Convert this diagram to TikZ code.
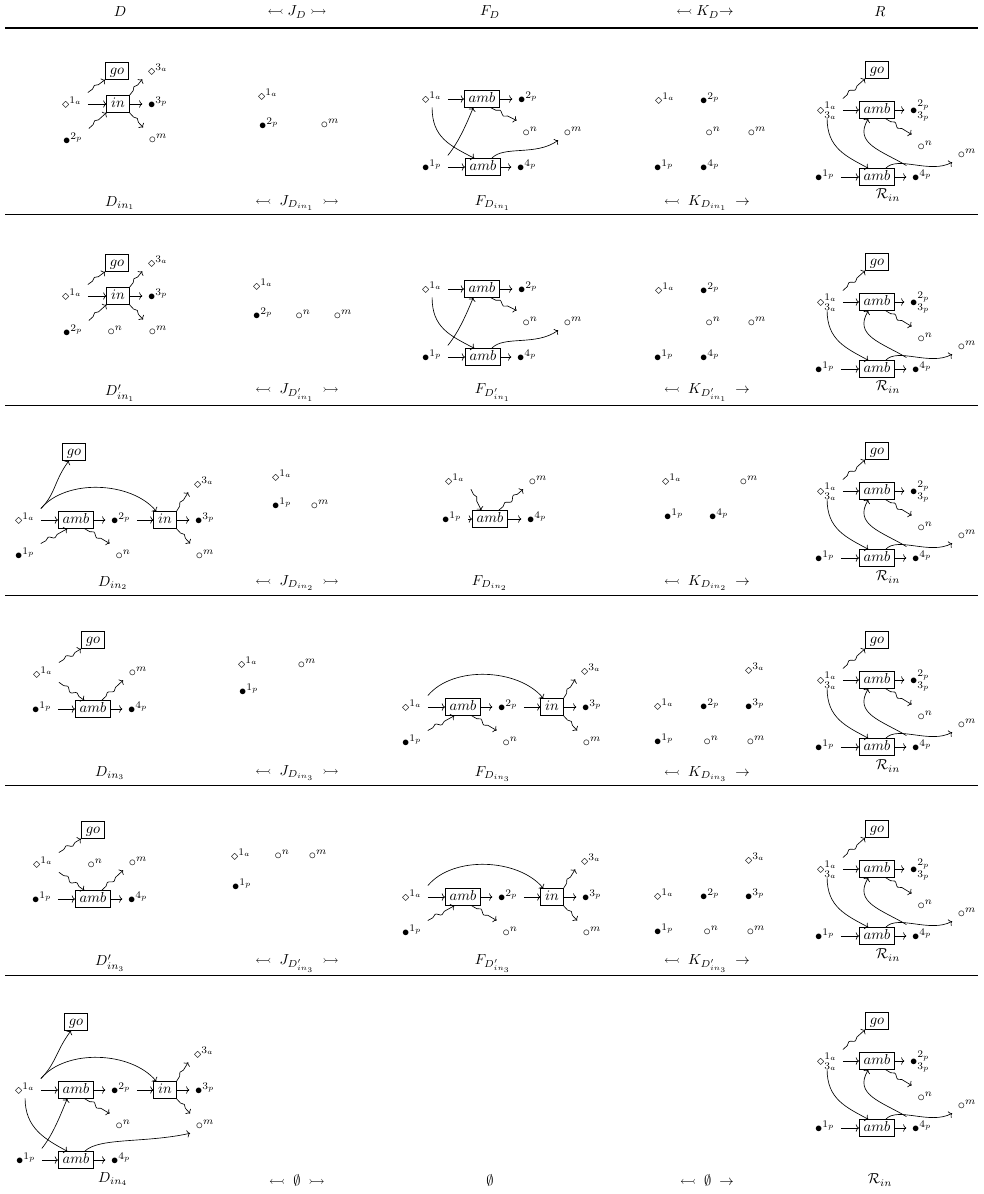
\documentclass[tikz,border=0pt]{standalone}
\usepackage{amsmath,amssymb}
\usetikzlibrary{arrows.meta,decorations.pathmorphing}
\tikzset{
  vtx/.style={inner sep=1pt,outer xsep=3pt,outer ysep=1.5pt,
    text height=2ex,text depth=0pt,xshift=3.5pt,yshift=1.8pt},
  agentbox/.style={draw,line width=0.5pt,inner xsep=3pt,inner ysep=2pt,
    text height=1.5ex,text depth=.25ex},
  edgearrow/.style={-{To[length=2.2pt,width=5pt]},line width=0.45pt},
  squig/.style={edgearrow,decorate,decoration={snake,amplitude=1.3pt,
    segment length=8pt,pre length=4pt,post length=4pt}},
  cellname/.style={inner sep=1pt},
  tablerule/.style={line width=0.6pt}
}
% D_{in_1}: go and in around 1a
\newcommand{\dinonecell}[2]{%
  \begin{scope}[shift={(0,#2)}]
    \node[agentbox] (#1-go) at (117,71) {$go$};
    \node[agentbox] (#1-in) at (118,104) {$in$};
    \node[vtx] (#1-1a) at (67,105) {$\diamond^{1_a}$};
    \node[vtx] (#1-2p) at (68,141) {$\bullet^{2_p}$};
    \node[vtx] (#1-3a) at (153,72) {$\diamond^{3_a}$};
    \node[vtx] (#1-3p) at (153,105) {$\bullet^{3_p}$};
    \node[vtx] (#1-m) at (153,140) {$\circ^m$};
    \draw[squig] (#1-1a.north east) -- (#1-go.south west);
    \draw[edgearrow] (#1-1a.east |- #1-in) -- (#1-in);
    \draw[squig] (#1-2p.north east) -- (#1-in.south west);
    \draw[squig] (#1-in.north east) -- (#1-3a.south west);
    \draw[edgearrow] (#1-in) -- (#1-in -| #1-3p.west);
    \draw[squig] (#1-in.south east) -- (#1-m.north west);
  \end{scope}}
% amb followed by in (D_{in_2}, D_{in_4}, F_{D_{in_3}})
\newcommand{\incell}[2]{%
  \begin{scope}[shift={#2}]
    \node[vtx] (#1-1a) at (20,521) {$\diamond^{1_a}$};
    \node[agentbox] (#1-amb) at (76,520) {$amb$};
    \node[vtx] (#1-2p) at (116,521) {$\bullet^{2_p}$};
    \node[agentbox] (#1-in) at (165,520) {$in$};
    \node[vtx] (#1-3a) at (199,485) {$\diamond^{3_a}$};
    \node[vtx] (#1-3p) at (200,521) {$\bullet^{3_p}$};
    \node[vtx] (#1-n) at (118,556) {$\circ^n$};
    \node[vtx] (#1-m) at (200,556) {$\circ^m$};
    \draw[edgearrow] (#1-1a.north east) .. controls +(25,-30) and +(-25,-30) .. (#1-in.135);
    \draw[edgearrow] (#1-1a.east |- #1-amb) -- (#1-amb);
    \draw[edgearrow] (#1-amb) -- (#1-amb -| #1-2p.west);
    \draw[squig] (#1-amb.-45) -- (#1-n.north west);
    \draw[edgearrow] (#1-2p.east |- #1-in) -- (#1-in);
    \draw[squig] (#1-in.north east) -- (#1-3a.south west);
    \draw[edgearrow] (#1-in) -- (#1-in -| #1-3p.west);
    \draw[squig] (#1-in.south east) -- (#1-m.north west);
  \end{scope}}
% F_{D_{in_1}}: two amb
\newcommand{\finonecell}[2]{%
  \begin{scope}[shift={(0,#2)}]
    \node[vtx] (#1-1a) at (427,100) {$\diamond^{1_a}$};
    \node[agentbox] (#1-amb) at (482,99) {$amb$};
    \node[vtx] (#1-2p) at (523,100) {$\bullet^{2_p}$};
    \node[vtx] (#1-n) at (525,133) {$\circ^n$};
    \node[vtx] (#1-m) at (568,133) {$\circ^m$};
    \node[vtx] (#1-1p) at (427,168) {$\bullet^{1_p}$};
    \node[agentbox] (#1-ambb) at (483,167) {$amb$};
    \node[vtx] (#1-4p) at (522,168) {$\bullet^{4_p}$};
    \draw[edgearrow] (#1-1a.east |- #1-amb) -- (#1-amb);
    \draw[edgearrow] (#1-amb) -- (#1-amb -| #1-2p.west);
    \draw[squig] (#1-amb.-45) -- (#1-n.north west);
    \draw[edgearrow] (#1-1a.south) .. controls +(0,30) and +(-25,-13) .. (#1-ambb.135);
    \draw[edgearrow] (#1-1p.north east) .. controls +(12,-15) and +(-6,14) .. (#1-amb.-135);
    \draw[edgearrow] (#1-1p.east |- #1-ambb) -- (#1-ambb);
    \draw[edgearrow] (#1-ambb) -- (#1-ambb -| #1-4p.west);
    \draw[edgearrow] (#1-ambb.45) .. controls +(12,-13) and +(-22,16) .. (#1-m.south west);
  \end{scope}}
% K_{D_{in_1}}
\newcommand{\kinonecell}[2]{%
  \begin{scope}[shift={(0,#2)}]
    \node[vtx] (#1-1a) at (660,101) {$\diamond^{1_a}$};
    \node[vtx] (#1-2p) at (705,101) {$\bullet^{2_p}$};
    \node[vtx] (#1-n) at (708,133) {$\circ^n$};
    \node[vtx] (#1-m) at (752,133) {$\circ^m$};
    \node[vtx] (#1-1p) at (659,168) {$\bullet^{1_p}$};
    \node[vtx] (#1-4p) at (705,168) {$\bullet^{4_p}$};
  \end{scope}}
% D_{in_3}: go and amb
\newcommand{\dinthreecell}[2]{%
  \begin{scope}[shift={(0,#2)}]
    \node[agentbox] (#1-go) at (93,640) {$go$};
    \node[vtx] (#1-1a) at (38,675) {$\diamond^{1_a}$};
    \node[vtx] (#1-m) at (133,673) {$\circ^m$};
    \node[vtx] (#1-1p) at (37,710) {$\bullet^{1_p}$};
    \node[agentbox] (#1-amb) at (93,709) {$amb$};
    \node[vtx] (#1-4p) at (133,710) {$\bullet^{4_p}$};
    \draw[squig] (#1-1a.north east) -- (#1-go.south west);
    \draw[squig] (#1-1a.south east) -- (#1-amb.135);
    \draw[squig] (#1-amb.45) -- (#1-m.south west);
    \draw[edgearrow] (#1-1p.east |- #1-amb) -- (#1-amb);
    \draw[edgearrow] (#1-amb) -- (#1-amb -| #1-4p.west);
  \end{scope}}
% K_{D_{in_3}}
\newcommand{\kinthreecell}[2]{%
  \begin{scope}[shift={(0,#2)}]
    \node[vtx] (#1-3a) at (750,671) {$\diamond^{3_a}$};
    \node[vtx] (#1-1a) at (659,707) {$\diamond^{1_a}$};
    \node[vtx] (#1-2p) at (705,707) {$\bullet^{2_p}$};
    \node[vtx] (#1-3p) at (750,707) {$\bullet^{3_p}$};
    \node[vtx] (#1-1p) at (659,742) {$\bullet^{1_p}$};
    \node[vtx] (#1-n) at (706,742) {$\circ^n$};
    \node[vtx] (#1-m) at (751,742) {$\circ^m$};
  \end{scope}}
% right-hand side R
\newcommand{\rhscell}[2]{%
  \begin{scope}[shift={(0,#2)}]
    \node[agentbox] (#1-go) at (877,70) {$go$};
    \node[agentbox] (#1-amb) at (877,110) {$amb$};
    \node[agentbox] (#1-ambb) at (877,177) {$amb$};
    \node[vtx] (#1-1a) at (822,111) {$\diamond^{1_a}_{3_a}$};
    \node[vtx] (#1-2p) at (915,111) {$\bullet^{2_p}_{3_p}$};
    \node[vtx] (#1-n) at (920,147) {$\circ^n$};
    \node[vtx] (#1-m) at (962,155) {$\circ^m$};
    \node[vtx] (#1-1p) at (820,178) {$\bullet^{1_p}$};
    \node[vtx] (#1-4p) at (917,178) {$\bullet^{4_p}$};
    \draw[squig] (#1-1a.north east) -- (#1-go.south west);
    \draw[edgearrow] (#1-1a.east |- #1-amb) -- (#1-amb);
    \draw[edgearrow] (#1-amb) -- (#1-amb -| #1-2p.west);
    \draw[squig] (#1-amb.-45) -- (#1-n.north west);
    \draw[edgearrow] (#1-1a.south) .. controls +(0,30) and +(-22,-12) .. (#1-ambb.135);
    \draw[edgearrow] (#1-4p.north west) .. controls +(-25,-15) and +(-15,25) .. (#1-amb.-135);
    \draw[edgearrow] (#1-ambb.45) .. controls +(12,-13) and +(-22,12) .. (#1-m.south west);
    \draw[edgearrow] (#1-1p.east |- #1-ambb) -- (#1-ambb);
    \draw[edgearrow] (#1-ambb) -- (#1-ambb -| #1-4p.west);
  \end{scope}}
\begin{document}
\begin{tikzpicture}[x=0.6897pt,y=-0.6897pt]
  \useasboundingbox (0,0) rectangle (983,1194);
  % header
  \node[cellname] (hD) at (120,12) {$D$};
  \node[cellname] (hJ) at (297,12) {$\leftarrowtail J_D \rightarrowtail$};
  \node[cellname] (hF) at (490,12) {$F_D$};
  \node[cellname] (hK) at (705,12) {$\leftarrowtail K_D{\rightarrow}$};
  \node[cellname] (hR) at (880,12) {$R$};
  \draw[tablerule,line width=0.8pt] (5,28) -- (978,28);
  \foreach \y in {214,405,595,785,975}
    \draw[tablerule] (5,\y) -- (978,\y);

  % row 1
  \dinonecell{d1}{0}
  \node[vtx] (j1-1a) at (263,97) {$\diamond^{1_a}$};
  \node[vtx] (j1-2p) at (264,126) {$\bullet^{2_p}$};
  \node[vtx] (j1-m) at (325,125) {$\circ^m$};
  \finonecell{f1}{0}
  \kinonecell{k1}{0}
  \rhscell{r1}{0}
  \node[cellname] (l1D) at (120,203) {$D_{in_1}$};
  \node[cellname] (l1J) at (297,203) {$\leftarrowtail\; J_{D_{in_1}}\;\rightarrowtail$};
  \node[cellname] (l1F) at (493,203) {$F_{D_{in_1}}$};
  \node[cellname] (l1K) at (707,203) {$\leftarrowtail\; K_{D_{in_1}}\;\rightarrow$};
  \node[cellname] (l1R) at (888,195) {$\mathcal{R}_{in}$};

  % row 2
  \dinonecell{d2}{192}
  \node[vtx] (d2-n) at (110,332) {$\circ^n$};
  \node[vtx] (j2-1a) at (258,287) {$\diamond^{1_a}$};
  \node[vtx] (j2-2p) at (258,316) {$\bullet^{2_p}$};
  \node[vtx] (j2-n) at (298,316) {$\circ^n$};
  \node[vtx] (j2-m) at (338,316) {$\circ^m$};
  \finonecell{f2}{190}
  \kinonecell{k2}{190}
  \rhscell{r2}{192}
  \node[cellname] (l2D) at (120,393) {$D'_{in_1}$};
  \node[cellname] (l2J) at (297,393) {$\leftarrowtail\; J_{D'_{in_1}}\;\rightarrowtail$};
  \node[cellname] (l2F) at (493,393) {$F_{D'_{in_1}}$};
  \node[cellname] (l2K) at (707,393) {$\leftarrowtail\; K_{D'_{in_1}}\;\rightarrow$};
  \node[cellname] (l2R) at (888,387) {$\mathcal{R}_{in}$};

  % row 3
  \incell{d3}{(0,0)}
  \node[agentbox] (d3-go) at (74,452) {$go$};
  \node[vtx] (d3-1p) at (20,556) {$\bullet^{1_p}$};
  \draw[edgearrow] (d3-1a.north east) .. controls +(15,-15) and +(-15,20) .. (d3-go.-120);
  \draw[squig] (d3-1p.north east) -- (d3-amb.-135);
  \node[vtx] (j3-1a) at (277,478) {$\diamond^{1_a}$};
  \node[vtx] (j3-1p) at (277,506) {$\bullet^{1_p}$};
  \node[vtx] (j3-m) at (315,506) {$\circ^m$};
  \node[vtx] (f3-1a) at (450,482) {$\diamond^{1_a}$};
  \node[vtx] (f3-m) at (533,482) {$\circ^m$};
  \node[vtx] (f3-1p) at (447,520) {$\bullet^{1_p}$};
  \node[agentbox] (f3-amb) at (490,519) {$amb$};
  \node[vtx] (f3-4p) at (532,520) {$\bullet^{4_p}$};
  \draw[squig] (f3-1a.south east) -- (f3-amb.135);
  \draw[squig] (f3-amb.45) -- (f3-m.south west);
  \draw[edgearrow] (f3-1p.east |- f3-amb) -- (f3-amb);
  \draw[edgearrow] (f3-amb) -- (f3-amb -| f3-4p.west);
  \node[vtx] (k3-1a) at (667,482) {$\diamond^{1_a}$};
  \node[vtx] (k3-m) at (744,482) {$\circ^m$};
  \node[vtx] (k3-1p) at (669,517) {$\bullet^{1_p}$};
  \node[vtx] (k3-4p) at (714,517) {$\bullet^{4_p}$};
  \rhscell{r3}{381}
  \node[cellname] (l3D) at (113,583) {$D_{in_2}$};
  \node[cellname] (l3J) at (297,583) {$\leftarrowtail\; J_{D_{in_2}}\;\rightarrowtail$};
  \node[cellname] (l3F) at (490,583) {$F_{D_{in_2}}$};
  \node[cellname] (l3K) at (707,583) {$\leftarrowtail\; K_{D_{in_2}}\;\rightarrow$};
  \node[cellname] (l3R) at (888,577) {$\mathcal{R}_{in}$};

  % row 4
  \dinthreecell{d4}{0}
  \node[vtx] (j4-1a) at (243,665) {$\diamond^{1_a}$};
  \node[vtx] (j4-m) at (302,665) {$\circ^m$};
  \node[vtx] (j4-1p) at (244,692) {$\bullet^{1_p}$};
  \incell{f4}{(387,187)}
  \node[vtx] (f4-1p) at (407,743) {$\bullet^{1_p}$};
  \draw[squig] (f4-1p.north east) -- (f4-amb.-135);
  \kinthreecell{k4}{0}
  \rhscell{r4}{570}
  \node[cellname] (l4D) at (110,773) {$D_{in_3}$};
  \node[cellname] (l4J) at (297,773) {$\leftarrowtail\; J_{D_{in_3}}\;\rightarrowtail$};
  \node[cellname] (l4F) at (493,774) {$F_{D_{in_3}}$};
  \node[cellname] (l4K) at (707,774) {$\leftarrowtail\; K_{D_{in_3}}\;\rightarrow$};
  \node[cellname] (l4R) at (888,766) {$\mathcal{R}_{in}$};

  % row 5
  \dinthreecell{d5}{190}
  \node[vtx] (d5-n) at (90,865) {$\circ^n$};
  \node[vtx] (j5-1a) at (236,857) {$\diamond^{1_a}$};
  \node[vtx] (j5-n) at (277,856) {$\circ^n$};
  \node[vtx] (j5-m) at (313,856) {$\circ^m$};
  \node[vtx] (j5-1p) at (237,887) {$\bullet^{1_p}$};
  \incell{f5}{(387,377)}
  \node[vtx] (f5-1p) at (407,933) {$\bullet^{1_p}$};
  \draw[squig] (f5-1p.north east) -- (f5-amb.-135);
  \kinthreecell{k5}{190}
  \rhscell{r5}{759}
  \node[cellname] (l5D) at (110,963) {$D'_{in_3}$};
  \node[cellname] (l5J) at (297,964) {$\leftarrowtail\; J_{D'_{in_3}}\;\rightarrowtail$};
  \node[cellname] (l5F) at (493,964) {$F_{D'_{in_3}}$};
  \node[cellname] (l5K) at (707,964) {$\leftarrowtail\; K_{D'_{in_3}}\;\rightarrow$};
  \node[cellname] (l5R) at (888,955) {$\mathcal{R}_{in}$};

  % row 6
  \incell{d6}{(0,570)}
  \node[agentbox] (d6-go) at (76,1022) {$go$};
  \node[vtx] (d6-1p) at (21,1161) {$\bullet^{1_p}$};
  \node[agentbox] (d6-ambb) at (76,1160) {$amb$};
  \node[vtx] (d6-4p) at (116,1161) {$\bullet^{4_p}$};
  \draw[edgearrow] (d6-1a.north east) .. controls +(15,-15) and +(-15,20) .. (d6-go.-120);
  \draw[edgearrow] (d6-1a.south) .. controls +(0,30) and +(-22,-12) .. (d6-ambb.135);
  \draw[edgearrow] (d6-1p.north east) .. controls +(12,-15) and +(-6,14) .. (d6-amb.-135);
  \draw[edgearrow] (d6-1p.east |- d6-ambb) -- (d6-ambb);
  \draw[edgearrow] (d6-ambb) -- (d6-ambb -| d6-4p.west);
  \draw[edgearrow] (d6-ambb.45) .. controls +(14,-14) and +(-45,10) .. (d6-m.south west);
  \rhscell{r6}{951}
  \node[cellname] (l6D) at (113,1179) {$D_{in_4}$};
  \node[cellname] (l6J) at (297,1180) {$\leftarrowtail\; \emptyset\;\rightarrowtail$};
  \node[cellname] (l6F) at (490,1180) {$\emptyset$};
  \node[cellname] (l6K) at (707,1180) {$\leftarrowtail\; \emptyset\;\rightarrow$};
  \node[cellname] (l6R) at (880,1180) {$\mathcal{R}_{in}$};
\end{tikzpicture}
\end{document}
